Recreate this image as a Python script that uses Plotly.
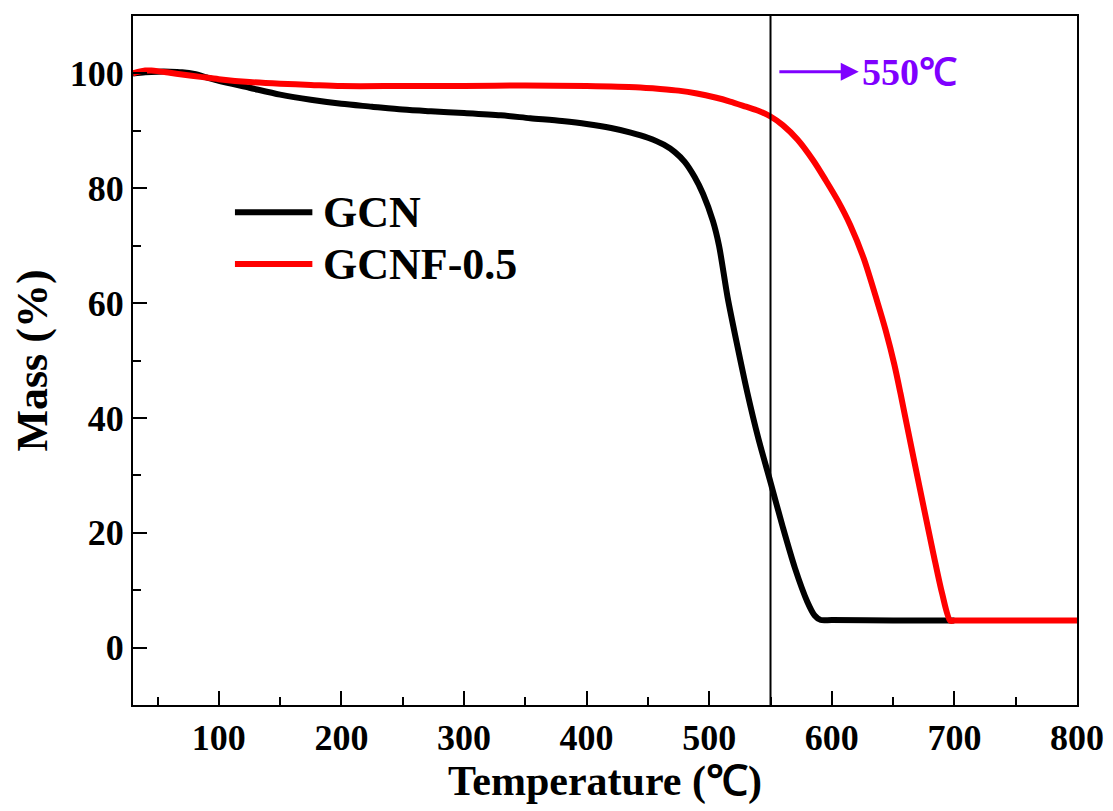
import plotly.graph_objects as go

# ---- data ----
gcn_T = [30, 40, 50, 60, 70, 80, 90, 100, 125, 150, 175, 200, 225, 250, 273, 300, 330, 354,
         380, 400, 420, 436, 450, 463, 472, 480, 488, 495, 503, 508, 515, 523, 531, 540, 550,
         560, 570, 580, 586, 591, 600, 650, 700]
gcn_m = [100.0, 100.2, 100.3, 100.3, 100.2, 99.9, 99.3, 98.7, 97.5, 96.3, 95.4, 94.7, 94.2,
         93.7, 93.4, 93.1, 92.7, 92.2, 91.7, 91.2, 90.5, 89.7, 88.8, 87.6, 86.3, 84.6, 82.0,
         79.0, 74.3, 70.0, 61.0, 52.5, 44.5, 36.5, 28.8, 21.0, 13.8, 8.0, 5.6, 4.8, 4.8,
         4.7, 4.7]

gcnf_T = [30, 35, 40, 45, 50, 60, 70, 85, 100, 125, 150, 175, 200, 250, 300, 350, 400, 420,
          440, 460, 475, 490, 505, 517, 530, 540, 550, 560, 572, 585, 595, 605, 615, 626, 637,
          644, 651, 656, 661, 672, 683, 690, 696.6, 700, 750, 800]
gcnf_m = [100.0, 100.3, 100.5, 100.5, 100.4, 100.1, 99.8, 99.4, 99.0, 98.5, 98.2, 98.0, 97.8,
          97.8, 97.8, 97.9, 97.8, 97.7, 97.6, 97.3, 97.0, 96.5, 95.8, 95.1, 94.2, 93.5, 92.5,
          91.0, 88.5, 84.8, 81.4, 77.8, 73.6, 67.8, 60.3, 55.2, 49.3, 44.3, 39.0, 27.5, 16.2,
          9.4, 4.7, 4.7, 4.7, 4.7]

series_names = ["GCN", "GCNF-0.5"]
series_colors = ["#000000", "#FF0000"]
marker_T = 550
marker_label = "550℃"
x_title = "Temperature (℃)"
y_title = "Mass (%)"
x_ticks = [100, 200, 300, 400, 500, 600, 700, 800]
y_ticks = [0, 20, 40, 60, 80, 100]

FONT = "Liberation Serif"
PURPLE = "#7F00FF"

fig = go.Figure()
fig.add_trace(go.Scatter(x=gcn_T, y=gcn_m, mode="lines", name=series_names[0],
                         line=dict(color=series_colors[0], width=6, shape="spline", smoothing=0.8)))
fig.add_trace(go.Scatter(x=gcnf_T, y=gcnf_m, mode="lines", name=series_names[1],
                         line=dict(color=series_colors[1], width=6, shape="spline", smoothing=0.8)))

# vertical marker line
fig.add_shape(type="line", x0=marker_T, x1=marker_T, xref="x", y0=0, y1=1, yref="paper",
              line=dict(color="black", width=2))

# arrow + label
fig.add_annotation(x=622, y=100.3, ax=556, ay=100.3, xref="x", yref="y", axref="x", ayref="y",
                   text="", showarrow=True, arrowhead=2, arrowsize=1.2, arrowwidth=3,
                   arrowcolor=PURPLE)
fig.add_annotation(x=623, y=100.3, xref="x", yref="y", text=marker_label, showarrow=False,
                   xanchor="left", yanchor="middle",
                   font=dict(family=FONT, size=38, color=PURPLE, weight="bold"))

# manual legend (long line samples)
leg_rows = [(0.715, series_colors[0], series_names[0]), (0.64, series_colors[1], series_names[1])]
for yy, col, name in leg_rows:
    fig.add_shape(type="line", xref="paper", yref="paper", x0=0.108, x1=0.19, y0=yy, y1=yy,
                  line=dict(color=col, width=6))
    fig.add_annotation(xref="paper", yref="paper", x=0.199, y=yy, text=name, showarrow=False,
                       xanchor="left", yanchor="middle",
                       font=dict(family=FONT, size=44, color="black", weight="bold"))

axis_common = dict(showline=True, linecolor="black", linewidth=2, mirror=True,
                   ticks="inside", ticklen=14, tickwidth=2, tickcolor="black",
                   showgrid=False, zeroline=False,
                   tickfont=dict(family=FONT, size=36, color="black", weight="bold"))

fig.update_xaxes(range=[30, 800], tickvals=x_ticks,
                 minor=dict(ticks="inside", ticklen=8, tickwidth=2, tickcolor="black", dtick=50),
                 title=dict(text=x_title, standoff=2,
                            font=dict(family=FONT, size=42, color="black", weight="bold")),
                 **axis_common)
fig.update_yaxes(range=[-10, 110], tickvals=y_ticks,
                 minor=dict(ticks="inside", ticklen=8, tickwidth=2, tickcolor="black", dtick=10),
                 title=dict(text=y_title, standoff=8,
                            font=dict(family=FONT, size=44, color="black", weight="bold")),
                 **axis_common)

fig.update_layout(width=1113, height=811, showlegend=False,
                  margin=dict(l=125, r=44, t=6, b=114),
                  paper_bgcolor="white", plot_bgcolor="white")

fig.write_html("out.html")
